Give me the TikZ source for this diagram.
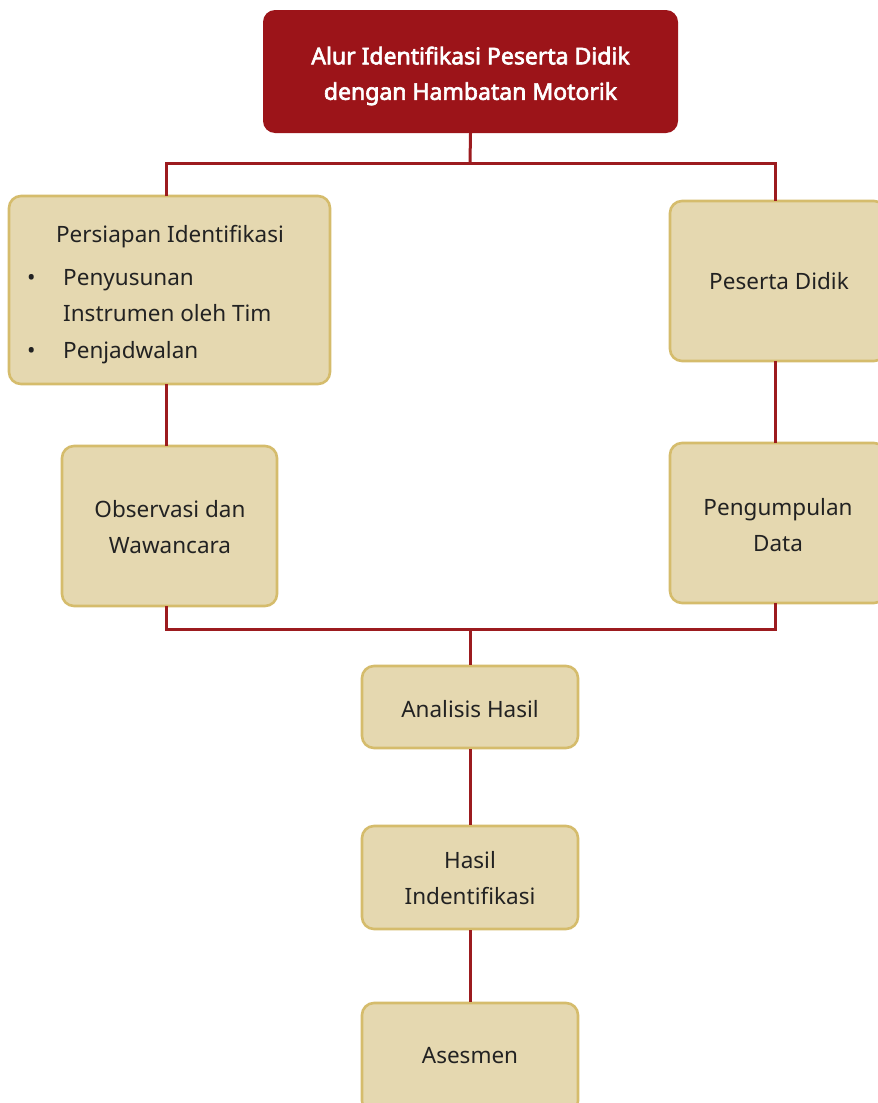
\documentclass[tikz,border=0pt]{standalone}
\usepackage{fontspec}
\setmainfont{Noto Sans}
\newfontfamily\titlefont{Noto Sans}[FakeBold=2.8]
\definecolor{titlered}{HTML}{9C1419}
\definecolor{linered}{HTML}{9C1B1F}
\definecolor{boxfill}{HTML}{E5D8B0}
\definecolor{boxdraw}{HTML}{D5BC6C}
\definecolor{txt}{HTML}{222222}
\begin{document}
\begin{tikzpicture}[x=1pt,y=-1pt,
  box/.style={draw=boxdraw, fill=boxfill, line width=2.6pt, rounded corners=12pt, inner sep=0pt},
  titlebox/.style={fill=titlered, rounded corners=12pt, inner sep=0pt},
  lbl/.style={text=txt, align=center, font=\fontsize{22.5}{36.5}\selectfont, inner sep=0pt},
  titlelbl/.style={text=white, align=center, font=\titlefont\fontsize{23}{35.5}\selectfont, inner sep=0pt},
  conn/.style={draw=linered, line width=3pt}]
\clip (0,0) rectangle (878,1103);
\fill[white] (0,0) rectangle (878,1103);
% boxes
\node[titlebox, minimum width=415pt, minimum height=123pt] (title) at (470.5,71.5) {};
\node[box, minimum width=321pt, minimum height=188pt] (persiapan) at (169.5,290) {};
\node[box, minimum width=216pt, minimum height=160pt] (peserta) at (778,281) {};
\node[box, minimum width=215pt, minimum height=160pt] (observasi) at (169.5,526) {};
\node[box, minimum width=216pt, minimum height=160pt] (pengumpulan) at (778,523) {};
\node[box, minimum width=216pt, minimum height=82pt] (analisis) at (470,707) {};
\node[box, minimum width=216pt, minimum height=103pt] (hasil) at (470,877.5) {};
\node[box, minimum width=216pt, minimum height=110pt] (asesmen) at (470,1058) {};
% coordinates
\coordinate (topjoin) at (470,163);
\coordinate (tl) at (166,163);
\coordinate (tr) at (775,163);
\coordinate (bl) at (166,629);
\coordinate (br) at (775,629);
\coordinate (botjoin) at (470,629);
% connectors
\draw[conn] (title.south) -- (topjoin);
\draw[conn] (166,196) -- (tl) -- (tr) -- (775,201);
\draw[conn] (166,384) -- (166,446);
\draw[conn] (775,361) -- (775,443);
\draw[conn] (166,606) -- (bl) -- (br) -- (775,603);
\draw[conn] (botjoin) -- (analisis.north);
\draw[conn] (analisis.south) -- (hasil.north);
\draw[conn] (hasil.south) -- (asesmen.north);
% texts
\node[titlelbl] (titletext) at (470.5,76) {Alur Identifikasi Peserta Didik\\dengan Hambatan Motorik};
\node[lbl] (persiapanhead) at (170,236.5) {Persiapan Identifikasi};
\node[lbl, anchor=north west, align=left] (persiapanlist) at (27,259.5) {%
  \begin{tabular}{@{}p{36pt}@{}l@{}}
  \textbullet & Penyusunan\\
   & Instrumen oleh Tim\\
  \textbullet & Penjadwalan
  \end{tabular}};
\node[lbl] (pesertatext) at (779,281) {Peserta Didik};
\node[lbl] (observasitext) at (170,527) {Observasi dan\\Wawancara};
\node[lbl] (pengumpulantext) at (778,525) {Pengumpulan\\Data};
\node[lbl] (analisistext) at (470,709) {Analisis Hasil};
\node[lbl] (hasiltext) at (470,878) {Hasil\\Indentifikasi};
\node[lbl] (asesmentext) at (470,1056) {Asesmen};
\end{tikzpicture}
\end{document}
